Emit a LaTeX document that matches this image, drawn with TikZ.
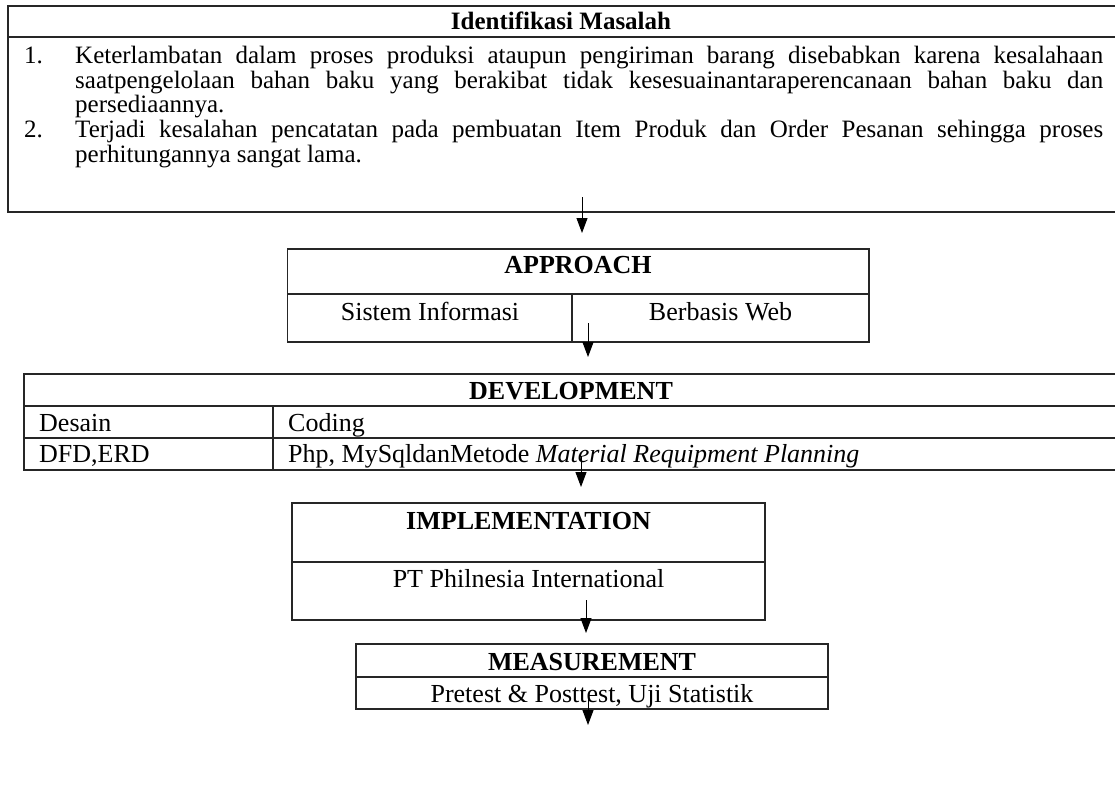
\documentclass[tikz,border=0pt]{standalone}
\usepackage{fontspec}
\setmainfont{Liberation Serif}
\usetikzlibrary{arrows.meta}
\hbadness=10000
\begin{document}
\begin{tikzpicture}[x=1pt,y=-1pt,
  frame/.style={line width=1.4pt, draw=black!85, line cap=rect},
  flow/.style={line width=1pt, -{Triangle[width=11pt,length=15pt]}},
  txt/.style={font=\fontsize{26}{28}\selectfont, inner sep=0pt, anchor=base},
  txtl/.style={txt, anchor=base west},
  head/.style={txt, font=\fontsize{26}{28}\selectfont\bfseries},
  toptxt/.style={txtl, font=\fontsize{25}{27}\selectfont},
  tophead/.style={txt, font=\fontsize{25}{27}\selectfont\bfseries},
]
\useasboundingbox (0,0) rectangle (1115,789);

% ---------- Identifikasi Masalah ----------
\draw[frame] (1130,6) -- (8,6) -- (8,212) -- (1130,212);
\draw[frame] (8,37) -- (1130,37);
\node[tophead] (idm) at (561,30) {Identifikasi Masalah};
\node[toptxt] (n1) at (24,64) {1.};
\node[toptxt] (l1) at (75,64) {\makebox[1028pt][s]{Keterlambatan dalam proses produksi ataupun pengiriman barang disebabkan karena kesalahaan}};
\node[toptxt] (l2) at (75,88.5) {\makebox[1028pt][s]{saatpengelolaan bahan baku yang berakibat tidak kesesuainantaraperencanaan bahan baku dan}};
\node[toptxt] (l3) at (75,113) {persediaannya.};
\node[toptxt] (n2) at (24,137.5) {2.};
\node[toptxt] (l4) at (75,137.5) {\makebox[1028pt][s]{Terjadi kesalahan pencatatan pada pembuatan Item Produk dan Order Pesanan sehingga proses}};
\node[toptxt] (l5) at (75,162) {perhitungannya sangat lama.};

% ---------- APPROACH ----------
\draw[frame] (287.5,249) rectangle (869,342);
\draw[frame] (287.5,294) -- (869,294);
\draw[frame] (572,294) -- (572,342);
\node[head] (app) at (578,273) {APPROACH};
\node[txt] (si) at (430,320) {Sistem Informasi};
\node[txt] (bw) at (720.5,320) {Berbasis Web};

% ---------- DEVELOPMENT ----------
\draw[frame] (1130,374) -- (24,374) -- (24,470) -- (1130,470);
\draw[frame] (24,406) -- (1130,406);
\draw[frame] (24,438) -- (1130,438);
\draw[frame] (273,406) -- (273,470);
\node[head] (dev) at (571,399) {DEVELOPMENT};
\node[txtl] (des) at (39,431) {Desain};
\node[txtl] (cod) at (288,431) {Coding};
\node[txtl] (dfd) at (39,462) {DFD,ERD};
\node[txtl] (php) at (288,462) {Php, MySqldanMetode \textit{Material Requipment Planning}};

% ---------- IMPLEMENTATION ----------
\draw[frame] (292,503) rectangle (765,620);
\draw[frame] (292,562) -- (765,562);
\node[head] (imp) at (528.5,529) {IMPLEMENTATION};
\node[txt] (pt) at (528.5,587) {PT Philnesia International};

% ---------- MEASUREMENT ----------
\draw[frame] (356,644) rectangle (828,709);
\draw[frame] (356,677) -- (828,677);
\node[head] (mea) at (592,670) {MEASUREMENT};
\node[txt] (pre) at (592,702) {Pretest \& Posttest, Uji Statistik};

% ---------- arrows ----------
\coordinate (a1s) at (582,197); \coordinate (a1e) at (582,233);
\coordinate (a2s) at (588,323); \coordinate (a2e) at (588,357);
\coordinate (a3s) at (581,456); \coordinate (a3e) at (581,487);
\coordinate (a4s) at (586,600); \coordinate (a4e) at (586,633);
\coordinate (a5s) at (588,697); \coordinate (a5e) at (588,725);
\draw[flow] (a1s) -- (a1e);
\draw[flow] (a2s) -- (a2e);
\draw[flow] (a3s) -- (a3e);
\draw[flow] (a4s) -- (a4e);
\draw[flow] (a5s) -- (a5e);
\end{tikzpicture}
\end{document}
